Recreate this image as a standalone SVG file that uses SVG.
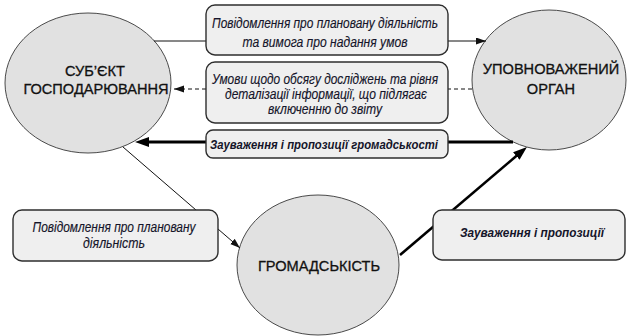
<svg xmlns="http://www.w3.org/2000/svg" width="628" height="336" viewBox="0 0 628 336">
<style>
.bg{fill:#ffffff}
.node{fill:#e1e1e1;stroke:#4a4a4a;stroke-width:1}
.box{fill:#efefef;stroke:#2e2e2e;stroke-width:1.4}
.ntext{font-family:"Liberation Sans",Arial,sans-serif;font-size:14.6px;fill:#111;text-anchor:middle;stroke:#111;stroke-width:0.3}
.ltext{font-family:"Liberation Sans",Arial,sans-serif;font-size:14px;font-style:italic;fill:#15152a;text-anchor:middle;stroke:#15152a;stroke-width:0.15}
.bold{font-weight:bold;font-size:13.5px;stroke-width:0}
.thin{fill:none;stroke:#111;stroke-width:1}
.dash{fill:none;stroke:#111;stroke-width:1;stroke-dasharray:4 3}
.thick{fill:none;stroke:#000;stroke-width:3}
.thick2{fill:none;stroke:#000;stroke-width:2.6}
</style>
<defs>
<marker id="ah" markerUnits="userSpaceOnUse" markerWidth="10" markerHeight="8" refX="10" refY="3.5" orient="auto">
<path d="M0,0 L10,3.5 L0,7 z" fill="#111"/>
</marker>
<marker id="ahb" markerUnits="userSpaceOnUse" markerWidth="15" markerHeight="11" refX="3" refY="5" orient="auto">
<path d="M0,0 L14,5 L0,10 z" fill="#000"/>
</marker>
</defs>
<rect class="bg" x="0" y="0" width="628" height="336"/>

<g id="subject">
<ellipse class="node" cx="88" cy="83" rx="83" ry="70"/>
<text class="ntext" x="95" y="75.5">СУБ’ЄКТ</text>
<text class="ntext" x="96" y="93.5">ГОСПОДАРЮВАННЯ</text>
</g>
<g id="authority">
<ellipse class="node" cx="549" cy="80" rx="77" ry="70"/>
<text class="ntext" x="551" y="73.5">УПОВНОВАЖЕНИЙ</text>
<text class="ntext" x="551" y="93.5">ОРГАН</text>
</g>
<g id="public">
<ellipse class="node" cx="318" cy="265" rx="81" ry="70"/>
<text class="ntext" x="319" y="270.5">ГРОМАДСЬКІСТЬ</text>
</g>

<g id="connectors">
<line class="thin" x1="154" y1="41" x2="486" y2="41" marker-end="url(#ah)"/>
<line class="dash" x1="472" y1="89" x2="174" y2="89" marker-end="url(#ah)"/>
<line class="thick" x1="513" y1="142" x2="146" y2="142" marker-end="url(#ahb)"/>
<line class="thin" x1="123" y1="147" x2="240" y2="248" marker-end="url(#ah)"/>
<line class="thick2" x1="400" y1="255" x2="518.6" y2="154.1" marker-end="url(#ahb)"/>
</g>

<g id="label-notice-request">
<rect class="box" x="206" y="5" width="242" height="50" rx="9"/>
<text class="ltext" x="325" y="28" textLength="226" lengthAdjust="spacingAndGlyphs">Повідомлення про плановану діяльність</text>
<text class="ltext" x="325" y="46.5" textLength="165" lengthAdjust="spacingAndGlyphs">та вимога про надання умов</text>
</g>
<g id="label-conditions">
<rect class="box" x="206" y="62" width="242" height="61" rx="9"/>
<text class="ltext" x="325" y="84" textLength="226" lengthAdjust="spacingAndGlyphs">Умови щодо обсягу досліджень та рівня</text>
<text class="ltext" x="326" y="99" textLength="202" lengthAdjust="spacingAndGlyphs">деталізації інформації, що підлягає</text>
<text class="ltext" x="325" y="114" textLength="114" lengthAdjust="spacingAndGlyphs">включенню до звіту</text>
</g>
<g id="label-public-remarks">
<rect class="box" x="206" y="130" width="242" height="28" rx="7"/>
<text class="ltext bold" x="324" y="149" textLength="228" lengthAdjust="spacingAndGlyphs">Зауваження і пропозиції громадськості</text>
</g>
<g id="label-notice">
<rect class="box" x="13" y="210" width="205" height="51" rx="9"/>
<text class="ltext" x="114" y="232" textLength="163" lengthAdjust="spacingAndGlyphs">Повідомлення про плановану</text>
<text class="ltext" x="114" y="247.5" textLength="62" lengthAdjust="spacingAndGlyphs">діяльність</text>
</g>
<g id="label-remarks">
<rect class="box" x="433" y="210" width="192" height="50" rx="9"/>
<text class="ltext bold" x="532" y="237" textLength="144" lengthAdjust="spacingAndGlyphs">Зауваження і пропозиції</text>
</g>
</svg>
